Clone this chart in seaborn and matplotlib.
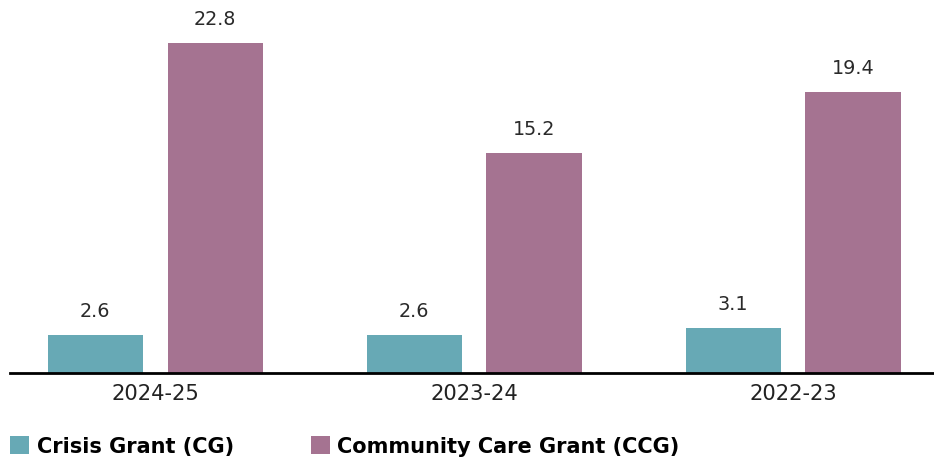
import matplotlib
matplotlib.use("Agg")
import matplotlib.pyplot as plt
from matplotlib.patches import Rectangle
import pandas as pd
import seaborn as sns

years = ["2024-25", "2023-24", "2022-23"]
series = ["Crisis Grant (CG)", "Community Care Grant (CCG)"]
crisis_grant = [2.6, 2.6, 3.1]
community_care_grant = [22.8, 15.2, 19.4]
colors = ["#67A9B5", "#A57391"]

df = pd.DataFrame({
    "year": years * 2,
    "grant": [series[0]] * 3 + [series[1]] * 3,
    "value": crisis_grant + community_care_grant,
})

sns.set_theme(style="white")
plt.rcParams["font.family"] = ["DejaVu Sans"]

W, H = 934, 460
fig = plt.figure(figsize=(W / 100, H / 100), dpi=100)
ax = fig.add_axes([10 / W, (H - 374) / H, (W - 10) / W, 374 / H])

sns.barplot(data=df, x="year", y="value", hue="grant", order=years,
            hue_order=series, palette=colors, width=0.752, gap=0.207,
            saturation=1, legend=False, linewidth=0, ax=ax)

for cont in ax.containers:
    ax.bar_label(cont, fmt="%.1f", padding=11, fontsize=13.8,
                 color="#2a2a2a")

ax.set_xlim(-0.455, 2.442)
ax.set_ylim(0, 25.85)
ax.set_xlabel("")
ax.set_ylabel("")
ax.set_yticks([])
for s in ["top", "right", "left"]:
    ax.spines[s].set_visible(False)
ax.spines["bottom"].set_color("black")
ax.spines["bottom"].set_linewidth(2)
ax.tick_params(axis="x", length=0, pad=7, labelsize=15.2, labelcolor="#222222")

# Legend: square swatches with bold labels along the bottom edge
legend_items = [(10, 37), (311, 337)]
for (sx, tx), c, name in zip(legend_items, colors, series):
    fig.patches.append(Rectangle((sx / W, (H - 455) / H), 19 / W, 18 / H,
                                 transform=fig.transFigure, facecolor=c,
                                 edgecolor="none"))
    fig.text(tx / W, (H - 447.5) / H, name, ha="left", va="center",
             fontsize=15, fontweight="bold", color="black")

fig.savefig("out.png", dpi=100)
